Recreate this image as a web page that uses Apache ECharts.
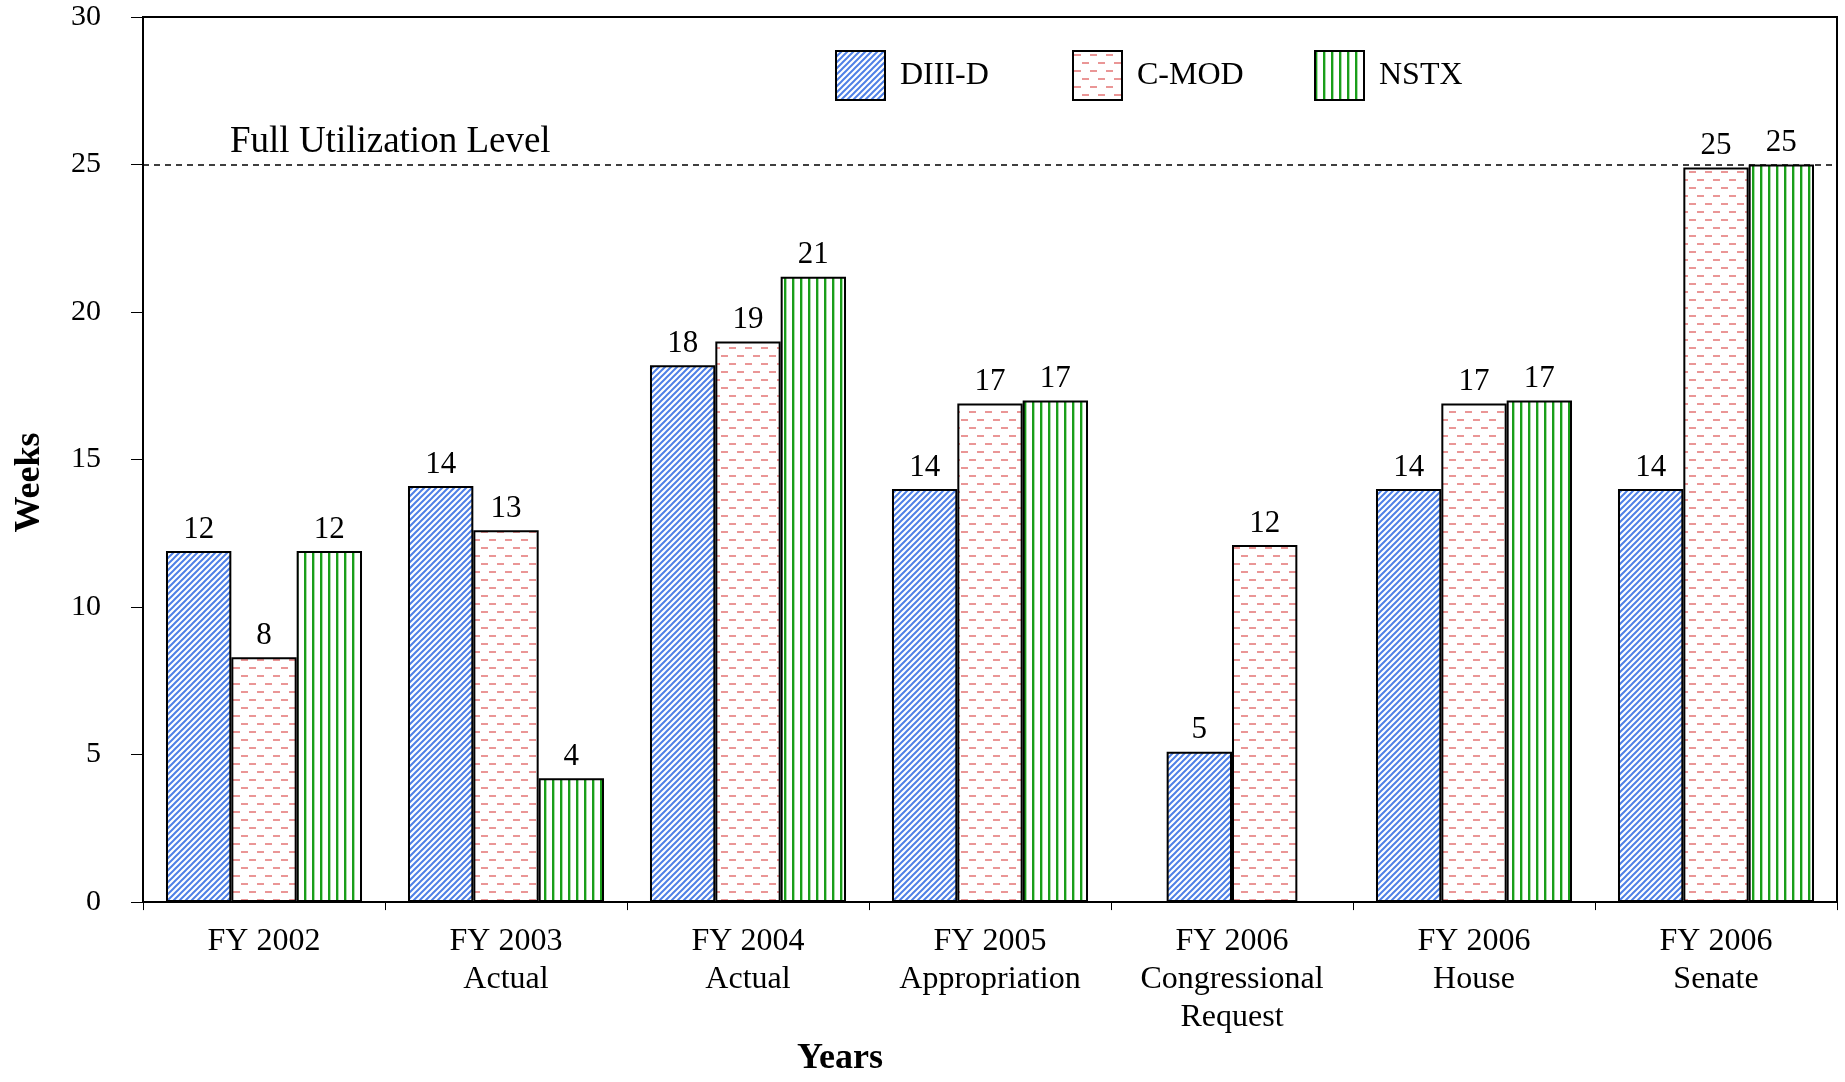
<!DOCTYPE html>
<html><head><meta charset="utf-8">
<script src="https://cdn.jsdelivr.net/npm/echarts@6/dist/echarts.min.js"></script>
<style>html,body{margin:0;padding:0;background:#fff}#c{width:1845px;height:1082px}</style>
</head><body><div id="c"></div>
<script>
// ---- data ----
const categories = ['FY 2002', 'FY 2003\nActual', 'FY 2004\nActual', 'FY 2005\nAppropriation',
  'FY 2006\nCongressional\nRequest', 'FY 2006\nHouse', 'FY 2006\nSenate'];
const seriesNames = ['DIII-D', 'C-MOD', 'NSTX'];
const diiid = [11.9, 14.1, 18.2, 14.0, 5.1, 14.0, 14.0];
const cmod  = [8.3, 12.6, 19.0, 16.9, 12.1, 16.9, 24.9];
const nstx  = [11.9, 4.2, 21.2, 17.0, null, 17.0, 25.0];
const yMin = 0, yMax = 30, yStep = 5;
const fullUtilization = 25;
const fullUtilizationLabel = 'Full Utilization Level';
const xAxisTitle = 'Years';
const yAxisTitle = 'Weeks';

// ---- patterns ----
function makePattern(w, h, draw) {
  const c = document.createElement('canvas'); c.width = w; c.height = h;
  const g = c.getContext('2d'); g.fillStyle = '#fff'; g.fillRect(0, 0, w, h); draw(g);
  return { image: c, repeat: 'repeat' };
}
const bluePat = makePattern(6, 6, g => {
  g.strokeStyle = '#4f80e6'; g.lineWidth = 2; g.beginPath();
  g.moveTo(0, 6); g.lineTo(6, 0);
  g.moveTo(-1, 1); g.lineTo(1, -1);
  g.moveTo(5, 7); g.lineTo(7, 5);
  g.stroke();
});
const pinkPat = makePattern(16, 16, g => {
  g.fillStyle = '#ea9696';
  g.fillRect(1, 3, 7, 2);
  g.fillRect(9, 11, 7, 2);
});
const greenPat = makePattern(8, 4, g => {
  g.fillStyle = '#1a9e1a'; g.fillRect(0, 0, 2, 4);
  g.fillStyle = '#a8dca8'; g.fillRect(2, 0, 1, 4);
});
const patterns = [bluePat, pinkPat, greenPat];

const FONT = 'Liberation Serif';
const twoBar = nstx.map(v => v == null);
const pick = (arr, cond) => arr.map((v, i) => cond(i) ? v : null);

const labelCfg = {
  show: true, position: 'top', distance: 6, color: '#000', fontFamily: FONT, fontSize: 31,
  formatter: p => (p.value == null ? '' : String(Math.round(p.value)))
};
function barSeries(name, idx, data, xAxisIndex) {
  return {
    name, type: 'bar', xAxisIndex, data, barWidth: '27%', barGap: '0%',
    itemStyle: { color: patterns[idx], borderColor: '#000', borderWidth: 2 },
    label: labelCfg, silent: true
  };
}

const series = [
  barSeries(seriesNames[0], 0, pick(diiid, i => !twoBar[i]), 0),
  barSeries(seriesNames[1], 1, pick(cmod, i => !twoBar[i]), 0),
  barSeries(seriesNames[2], 2, nstx, 0),
  barSeries(seriesNames[0], 0, pick(diiid, i => twoBar[i]), 1),
  barSeries(seriesNames[1], 1, pick(cmod, i => twoBar[i]), 1)
];
series[2].markLine = {
  silent: true, symbol: ['none', 'none'],
  lineStyle: { color: '#000', type: [6, 5], width: 1.5 },
  label: { show: true, position: 'insideStartTop', formatter: fullUtilizationLabel,
    color: '#000', fontFamily: FONT, fontSize: 37, distance: 4, padding: [0, 0, 0, 83] },
  data: [{ yAxis: fullUtilization }]
};

const legendLefts = [835, 1072, 1314];
const legends = seriesNames.map((n, i) => ({
  data: [n], left: legendLefts[i], top: 50, padding: 0, itemWidth: 49, itemHeight: 49,
  icon: 'rect', selectedMode: false,
  textStyle: { fontFamily: FONT, fontSize: 32, color: '#000', padding: [8, 0, 0, 10] }
}));

const chart = echarts.init(document.getElementById('c'), null, { renderer: 'canvas' });
chart.setOption({
  backgroundColor: '#fff',
  animation: false,
  grid: { left: 143, right: 8, top: 17, bottom: 158, show: true, borderColor: '#000', borderWidth: 2, containLabel: false },
  legend: legends,
  xAxis: [{
    type: 'category', data: categories, position: 'bottom',
    axisLine: { lineStyle: { color: '#000', width: 2 } },
    axisTick: { show: true, length: 8, lineStyle: { color: '#000', width: 1 } },
    axisLabel: { interval: 0, color: '#000', fontFamily: FONT, fontSize: 32, lineHeight: 38, margin: 20 },
    name: xAxisTitle, nameLocation: 'middle', nameGap: 121,
    nameTextStyle: { fontFamily: FONT, fontSize: 36, fontWeight: 'bold', color: '#000', padding: [0, 300, 0, 0] }
  }, {
    type: 'category', data: categories, position: 'bottom', show: false
  }],
  yAxis: {
    type: 'value', min: yMin, max: yMax, interval: yStep,
    splitLine: { show: false },
    axisLine: { show: true, lineStyle: { color: '#000', width: 2 } },
    axisTick: { show: true, length: 12, lineStyle: { color: '#000', width: 1 } },
    axisLabel: { color: '#000', fontFamily: FONT, fontSize: 30, margin: 42 },
    name: yAxisTitle, nameLocation: 'middle', nameGap: 95,
    nameTextStyle: { fontFamily: FONT, fontSize: 36, fontWeight: 'bold', color: '#000', padding: [0, 46, 0, 0] }
  },
  series
});
</script></body></html>
